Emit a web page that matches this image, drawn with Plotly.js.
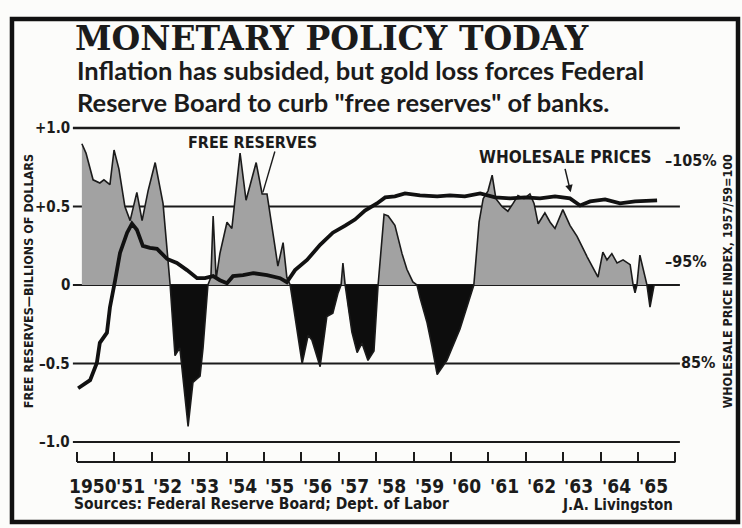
<!DOCTYPE html>
<html>
<head>
<meta charset="utf-8">
<script src="https://cdn.plot.ly/plotly-3.0.1.min.js"></script>
<style>
  html, body { margin: 0; padding: 0; background: #fcfcfa; }
  #chart { width: 742px; height: 528px; }
</style>
</head>
<body>
<div id="chart"></div>
<script>
// ---- Data ----
// Free reserves of member banks, billions of dollars (decimal year, value)
const frYears = [1950.13,1950.24,1950.43,1950.61,1950.72,1950.88,1950.99,1951.12,1951.28,1951.42,1951.60,1951.74,1951.90,1952.09,1952.30,1952.43,1952.49,1952.62,1952.75,1952.97,1953.10,1953.29,1953.37,1953.50,1953.58,1953.64,1953.72,1953.82,1954.01,1954.14,1954.36,1954.52,1954.79,1954.95,1955.08,1955.29,1955.37,1955.51,1955.61,1955.70,1955.86,1956.02,1956.18,1956.28,1956.50,1956.68,1956.84,1956.98,1957.06,1957.11,1957.17,1957.25,1957.35,1957.49,1957.62,1957.78,1957.94,1958.05,1958.10,1958.21,1958.32,1958.50,1958.69,1958.82,1958.98,1959.09,1959.17,1959.36,1959.49,1959.63,1959.89,1960.24,1960.61,1960.75,1960.86,1960.99,1961.10,1961.20,1961.36,1961.52,1961.66,1961.79,1961.95,1962.11,1962.22,1962.33,1962.51,1962.65,1962.78,1962.99,1963.18,1963.37,1963.64,1963.93,1964.06,1964.17,1964.30,1964.44,1964.60,1964.79,1964.87,1964.92,1964.97,1965.05,1965.19,1965.24,1965.32,1965.43];
const frValues = [0.90,0.84,0.67,0.65,0.67,0.64,0.86,0.74,0.50,0.41,0.59,0.41,0.60,0.78,0.52,0.16,0,-0.45,-0.40,-0.90,-0.62,-0.58,-0.40,0,0.05,0.44,0.04,0.20,0.40,0.36,0.84,0.54,0.78,0.58,0.58,0.25,0.12,0.27,0.05,0,-0.25,-0.50,-0.32,-0.35,-0.52,-0.20,-0.18,-0.05,0,0.14,0,-0.15,-0.30,-0.43,-0.37,-0.48,-0.42,0,0.15,0.45,0.44,0.38,0.20,0.10,0.02,0,-0.08,-0.24,-0.39,-0.57,-0.48,-0.28,0,0.40,0.55,0.60,0.70,0.55,0.50,0.47,0.52,0.57,0.55,0.58,0.52,0.39,0.46,0.40,0.36,0.48,0.38,0.31,0.18,0.05,0.21,0.16,0.20,0.14,0.16,0.13,0,-0.05,0,0.19,0.05,0,-0.14,0];

// Wholesale price index, 1957-59 = 100 (decimal year, percent)
const wpYears = [1950.03,1950.35,1950.53,1950.61,1950.80,1950.88,1951.02,1951.15,1951.34,1951.47,1951.60,1951.76,1951.95,1952.14,1952.41,1952.67,1952.94,1953.21,1953.42,1953.64,1953.82,1954.01,1954.17,1954.44,1954.71,1955.08,1955.43,1955.61,1955.83,1956.15,1956.50,1956.84,1957.17,1957.43,1957.70,1958.02,1958.24,1958.50,1958.77,1959.17,1959.63,1959.97,1960.37,1960.78,1961.18,1961.58,1961.98,1962.38,1962.78,1963.18,1963.45,1963.72,1964.12,1964.52,1964.92,1965.32,1965.51];
const wpValues = [82.4,83.2,84.9,86.9,87.9,90.4,93.1,95.8,97.8,98.7,98.1,96.5,96.3,96.2,95.2,94.8,94.1,93.3,93.3,93.5,93.1,92.8,93.5,93.6,93.8,93.6,93.3,92.9,94.1,95.1,96.6,97.8,98.5,99.1,100.0,100.7,101.3,101.4,101.7,101.5,101.4,101.5,101.4,101.7,101.3,101.2,101.3,101.2,101.4,101.2,100.5,100.9,101.1,100.7,100.9,101.0,101.0];

// Axis labels
const yearTicks = [1950,1951,1952,1953,1954,1955,1956,1957,1958,1959,1960,1961,1962,1963,1964,1965,1966];
const yearLabels = ["1950","'51","'52","'53","'54","'55","'56","'57","'58","'59","'60","'61","'62","'63","'64","'65"];
const leftTicks = [1.0, 0.5, 0, -0.5, -1.0];
const leftLabels = ["+1.0", "+0.5", "0", "\u20130.5", "\u20131.0"];
const rightTicks = [105, 95, 85, 75];
const rightLabels = ["\u2013105%", "\u201395%", "85%", "75%"];

// ---- Styling ----
const INK = '#1b1b1b';
const GRAY = '#a2a2a2';
const COND = 'DejaVu Sans Condensed, Liberation Sans Narrow, DejaVu Sans, sans-serif';

const posVals = frValues.map(v => Math.max(v, 0));
const negVals = frValues.map(v => Math.min(v, 0));

const traces = [
  { x: frYears, y: posVals, type: 'scatter', mode: 'lines', fill: 'tozeroy',
    fillcolor: GRAY, line: { width: 0, color: GRAY }, hoverinfo: 'skip' },
  { x: frYears, y: negVals, type: 'scatter', mode: 'lines', fill: 'tozeroy',
    fillcolor: '#0d0d0d', line: { width: 0, color: '#0d0d0d' }, hoverinfo: 'skip' },
  { x: frYears, y: frValues, type: 'scatter', mode: 'lines',
    line: { width: 1.6, color: INK }, hoverinfo: 'skip' },
  { x: wpYears, y: wpValues, type: 'scatter', mode: 'lines', yaxis: 'y2',
    line: { width: 3.8, color: '#111' }, hoverinfo: 'skip' }
];

const X0 = 1949.866, X1 = 1966.176;
const xGridL = 1949.89, xGridR = 1966.12;

const shapes = [];
// horizontal rules
leftTicks.forEach(v => {
  shapes.push({ type: 'line', xref: 'x', yref: 'y', x0: xGridL, x1: xGridR, y0: v, y1: v,
    line: { color: INK, width: v === 1 ? 2.6 : 2 }, layer: 'below' });
});
// bottom time axis line
shapes.push({ type: 'line', xref: 'x', yref: 'paper', x0: yearTicks[0], x1: yearTicks[yearTicks.length - 1],
  y0: 0, y1: 0, line: { color: INK, width: 2.2 } });
// pointer for FREE RESERVES label
shapes.push({ type: 'line', xref: 'x', yref: 'y', x0: 1955.29, y0: 0.85, x1: 1954.97, y1: 0.59,
  line: { color: INK, width: 1.4 } });
// frame
shapes.push({ type: 'rect', xref: 'paper', yref: 'paper', x0: -0.0984, x1: 1.0918, y0: -0.1754, y1: 1.2953,
  line: { color: '#111', width: 4.5 }, fillcolor: 'rgba(0,0,0,0)' });

const annotations = [];
// left labels
leftTicks.forEach((v, i) => {
  annotations.push({ xref: 'paper', yref: 'y', x: 0, y: v, xanchor: 'right', yanchor: 'middle',
    text: leftLabels[i], showarrow: false, font: { family: COND, size: 15, color: INK, weight: 'bold' } });
});
// right labels
rightTicks.forEach((v, i) => {
  const inside = i < 2;
  annotations.push({ xref: 'x', yref: 'y2', x: inside ? 1965.67 : 1966.10, y: v, xanchor: 'left', yanchor: 'middle',
    text: rightLabels[i], showarrow: false, font: { family: COND, size: 16, color: INK, weight: 'bold' } });
});
// year labels
yearLabels.forEach((t, i) => {
  annotations.push({ xref: 'x', yref: 'paper', x: yearTicks[i] + 0.42, y: -0.07, xanchor: 'center', yanchor: 'middle',
    text: t, showarrow: false, font: { family: COND, size: 19, color: INK, weight: 'bold' } });
});
// subtitle
annotations.push({ xref: 'paper', yref: 'paper', x: 0.005, y: 1.1462, xanchor: 'left', yanchor: 'middle',
  text: 'Inflation has subsided, but gold loss forces Federal', showarrow: false,
  font: { family: 'Lato, sans-serif', size: 25.5, color: INK, weight: 'bold' } });
annotations.push({ xref: 'paper', yref: 'paper', x: 0.005, y: 1.0526, xanchor: 'left', yanchor: 'middle',
  text: 'Reserve Board to curb "free reserves" of banks.', showarrow: false,
  font: { family: 'Lato, sans-serif', size: 25.5, color: INK, weight: 'bold' } });
// series labels
annotations.push({ xref: 'x', yref: 'y', x: 1954.68, y: 0.91, xanchor: 'center', yanchor: 'middle',
  text: 'FREE RESERVES', showarrow: false, font: { family: COND, size: 16, color: INK, weight: 'bold' } });
annotations.push({ xref: 'x', yref: 'y2', x: 1963.07, y: 105.3, xanchor: 'center', yanchor: 'middle',
  text: 'WHOLESALE PRICES', showarrow: false, font: { family: COND, size: 17, color: INK, weight: 'bold' } });
annotations.push({ xref: 'x', yref: 'y2', x: 1963.20, y: 101.8, text: '', showarrow: true,
  ax: -6, ay: -25, arrowhead: 2, arrowsize: 1, arrowwidth: 1.5, arrowcolor: INK });
// axis titles
annotations.push({ xref: 'paper', yref: 'paper', x: -0.072, y: 0.529, textangle: -90, xanchor: 'center', yanchor: 'middle',
  text: 'FREE RESERVES\u2014BILLIONS OF DOLLARS', showarrow: false,
  font: { family: COND, size: 12.5, color: INK, weight: 'bold' } });
annotations.push({ xref: 'paper', yref: 'paper', x: 1.074, y: 0.529, textangle: -90, xanchor: 'center', yanchor: 'middle',
  text: 'WHOLESALE PRICE INDEX, 1957/59=100', showarrow: false,
  font: { family: COND, size: 12.5, color: INK, weight: 'bold' } });
// sources and credit
annotations.push({ xref: 'paper', yref: 'paper', x: 0, y: -0.123, xanchor: 'left', yanchor: 'middle',
  text: 'Sources: Federal Reserve Board; Dept. of Labor', showarrow: false,
  font: { family: COND, size: 15.5, color: INK, weight: 'bold' } });
annotations.push({ xref: 'x', yref: 'paper', x: 1966.0, y: -0.126, xanchor: 'right', yanchor: 'middle',
  text: 'J.A. Livingston', showarrow: false,
  font: { family: COND, size: 15, color: INK, weight: 'bold' } });

const layout = {
  width: 742, height: 528,
  margin: { l: 72, r: 60, t: 120, b: 66 },
  paper_bgcolor: '#fcfcfa', plot_bgcolor: 'rgba(0,0,0,0)',
  showlegend: false,
  title: { text: 'MONETARY POLICY TODAY', xref: 'container', yref: 'container',
    x: 75 / 742, xanchor: 'left', y: 1 - 38 / 528, yanchor: 'middle',
    font: { family: 'DejaVu Serif, serif', size: 33, color: INK, weight: 'bold' } },
  xaxis: { range: [X0, X1], showgrid: false, zeroline: false, showline: false,
    tickmode: 'array', tickvals: yearTicks, ticks: 'inside', ticklen: 10, tickwidth: 2,
    tickcolor: INK, showticklabels: false, fixedrange: true },
  yaxis: { range: [-1.127, 1.051], showgrid: false, zeroline: false, showline: false,
    showticklabels: false, ticks: '', fixedrange: true },
  yaxis2: { range: [75.10, 108.96], overlaying: 'y', side: 'right', showgrid: false, zeroline: false,
    showline: false, showticklabels: false, ticks: '', fixedrange: true },
  shapes: shapes,
  annotations: annotations
};

Plotly.newPlot('chart', traces, layout, { staticPlot: true, displayModeBar: false });
</script>
</body>
</html>
